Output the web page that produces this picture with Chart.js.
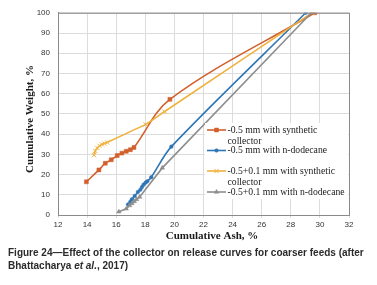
<!DOCTYPE html>
<html>
<head>
<meta charset="utf-8">
<script src="https://cdn.jsdelivr.net/npm/chart.js@4.4.1/dist/chart.umd.min.js"></script>
<style>
  html, body { margin: 0; padding: 0; background: #fff; }
  #wrap { position: relative; width: 377px; height: 285px; }
  #caption {
    position: absolute; left: 8px; top: 247px; width: 362px;
    font: bold 10px "Liberation Sans", Arial, sans-serif;
    line-height: 12.5px; color: #2b2b2b;
  }
</style>
</head>
<body>
<div id="wrap">
  <canvas id="chart" width="377" height="285"></canvas>
  <div id="caption">Figure 24—Effect of the collector on release curves for coarser feeds (after Bhattacharya <i>et al.</i>, 2017)</div>
</div>
<script>
// Données (cendres cumulées %, poids cumulé %)
const seriesLabels = [
    '-0.5 mm with synthetic collector',
    '-0.5 mm with n-dodecane',
    '-0.5+0.1 mm with synthetic collector',
    '-0.5+0.1 mm with n-dodecane'
];

const synthAsh = [13.95, 14.81, 15.25, 15.66, 16.07, 16.39, 16.69, 16.97, 17.22, 19.69, 29.65];
const synthWeight = [16.4, 22.3, 25.6, 27.3, 29.4, 30.6, 31.5, 32.3, 33.4, 57.2, 100];

const dodecAsh = [16.81, 16.97, 17.08, 17.27, 17.49, 17.66, 17.77, 17.88, 18.02, 18.14, 18.41, 19.79, 29.03];
const dodecWeight = [5.2, 6.5, 7.8, 9.4, 11.4, 12.5, 13.8, 15.0, 16.0, 16.7, 18.7, 33.8, 100];

const fineSynthAsh = [14.47, 14.56, 14.70, 14.86, 15.02, 15.20, 15.38, 18.02, 19.33, 29.45];
const fineSynthWeight = [29.6, 31.7, 33.2, 34.2, 34.9, 35.4, 35.9, 44.8, 51.2, 100];

const fineDodecAsh = [16.18, 16.69, 16.92, 17.08, 17.24, 17.40, 17.61, 19.17, 29.42];
const fineDodecWeight = [1.6, 3.1, 4.7, 5.7, 6.7, 7.7, 8.9, 23.3, 100];

const xTicks = [12, 14, 16, 18, 20, 22, 24, 26, 28, 30, 32];
const yTicks = [0, 10, 20, 30, 40, 50, 60, 70, 80, 90, 100];

// Styles des séries
const colors = ['#D2602C', '#2E75B6', '#F0B13E', '#8E8E8E'];
const markers = ['rect', 'circle', 'crossRot', 'triangle'];
const markerSizes = [2.8, 1.8, 3, 2.6];
const tensions = [0.35, 0.3, 0.1, 0];

function toPoints(xs, ys) {
    return xs.map((x, i) => ({ x: x, y: ys[i] }));
}

const pointSets = [
    toPoints(synthAsh, synthWeight),
    toPoints(dodecAsh, dodecWeight),
    toPoints(fineSynthAsh, fineSynthWeight),
    toPoints(fineDodecAsh, fineDodecWeight)
];

const datasets = pointSets.map((pts, i) => ({
    label: seriesLabels[i],
    data: pts,
    showLine: true,
    borderColor: colors[i],
    backgroundColor: colors[i],
    borderWidth: 1.6,
    pointStyle: markers[i],
    pointRadius: markerSizes[i],
    pointBorderWidth: i === 2 ? 1 : 0.5,
    tension: tensions[i],
    order: 4 - i
}));

// Titres des axes, cadre et légende dessinés à la main
const decorPlugin = {
    id: 'decor',
    afterDraw(chart) {
        const ctx = chart.ctx;
        const area = chart.chartArea;
        ctx.save();

        // cadre de la zone de tracé
        ctx.strokeStyle = '#8a8a8a';
        ctx.lineWidth = 1;
        ctx.strokeRect(area.left + 0.5, area.top + 0.5, area.right - area.left, area.bottom - area.top);

        // titres des axes
        ctx.fillStyle = '#1a1a1a';
        ctx.font = 'bold 11px "Liberation Serif", "Times New Roman", serif';
        ctx.textAlign = 'center';
        ctx.textBaseline = 'middle';
        ctx.fillText('Cumulative Ash, %', 212, 236);
        ctx.translate(30, 119);
        ctx.rotate(-Math.PI / 2);
        ctx.fillText('Cumulative Weight, %', 0, 0);
        ctx.restore();

        // légende
        ctx.save();
        ctx.fillStyle = '#ffffff';
        ctx.fillRect(205, 123, 143, 76);
        const rows = [
            { lines: ['-0.5 mm with synthetic', 'collector'], y: 130 },
            { lines: ['-0.5 mm with n-dodecane'], y: 150.5 },
            { lines: ['-0.5+0.1 mm with synthetic', 'collector'], y: 171 },
            { lines: ['-0.5+0.1 mm with n-dodecane'], y: 192 }
        ];
        ctx.font = '9.7px "Liberation Serif", "Times New Roman", serif';
        ctx.textAlign = 'left';
        ctx.textBaseline = 'middle';
        rows.forEach((row, i) => {
            ctx.strokeStyle = colors[i];
            ctx.lineWidth = 1.6;
            ctx.beginPath();
            ctx.moveTo(207, row.y);
            ctx.lineTo(226, row.y);
            ctx.stroke();
            ctx.fillStyle = colors[i];
            ctx.lineWidth = i === 2 ? 1 : 0.5;
            Chart.helpers.drawPoint(ctx, {
                pointStyle: markers[i],
                radius: markerSizes[i],
                rotation: 0,
                borderWidth: ctx.lineWidth
            }, 216.5, row.y);
            ctx.fillStyle = '#1a1a1a';
            row.lines.forEach((t, k) => ctx.fillText(t, 227.5, row.y + k * 11));
        });
        ctx.restore();
    }
};

new Chart(document.getElementById('chart'), {
    type: 'scatter',
    data: { datasets: datasets },
    options: {
        responsive: false,
        animation: false,
        devicePixelRatio: 1,
        layout: { padding: { left: 0, right: 28, top: 10, bottom: 0 } },
        plugins: {
            legend: { display: false },
            tooltip: { enabled: false }
        },
        scales: {
            x: {
                type: 'linear',
                min: xTicks[0],
                max: xTicks[xTicks.length - 1],
                afterBuildTicks: (scale) => { scale.ticks = xTicks.map(v => ({ value: v })); },
                afterFit: (scale) => { scale.height = 70; },
                grid: { color: '#dcdcdc', tickLength: 3, drawTicks: true },
                border: { color: '#8a8a8a' },
                ticks: {
                    padding: 2,
                    color: '#333',
                    font: { family: '"Liberation Sans", Arial, sans-serif', size: 8 },
                    maxRotation: 0
                }
            },
            y: {
                type: 'linear',
                min: yTicks[0],
                max: yTicks[yTicks.length - 1],
                afterBuildTicks: (scale) => { scale.ticks = yTicks.map(v => ({ value: v })); },
                afterFit: (scale) => { scale.width = 58; },
                grid: { color: '#dcdcdc', drawTicks: false },
                border: { color: '#8a8a8a' },
                ticks: {
                    padding: 8,
                    color: '#333',
                    font: { family: '"Liberation Sans", Arial, sans-serif', size: 8 }
                }
            }
        }
    },
    plugins: [decorPlugin]
});
</script>
</body>
</html>
